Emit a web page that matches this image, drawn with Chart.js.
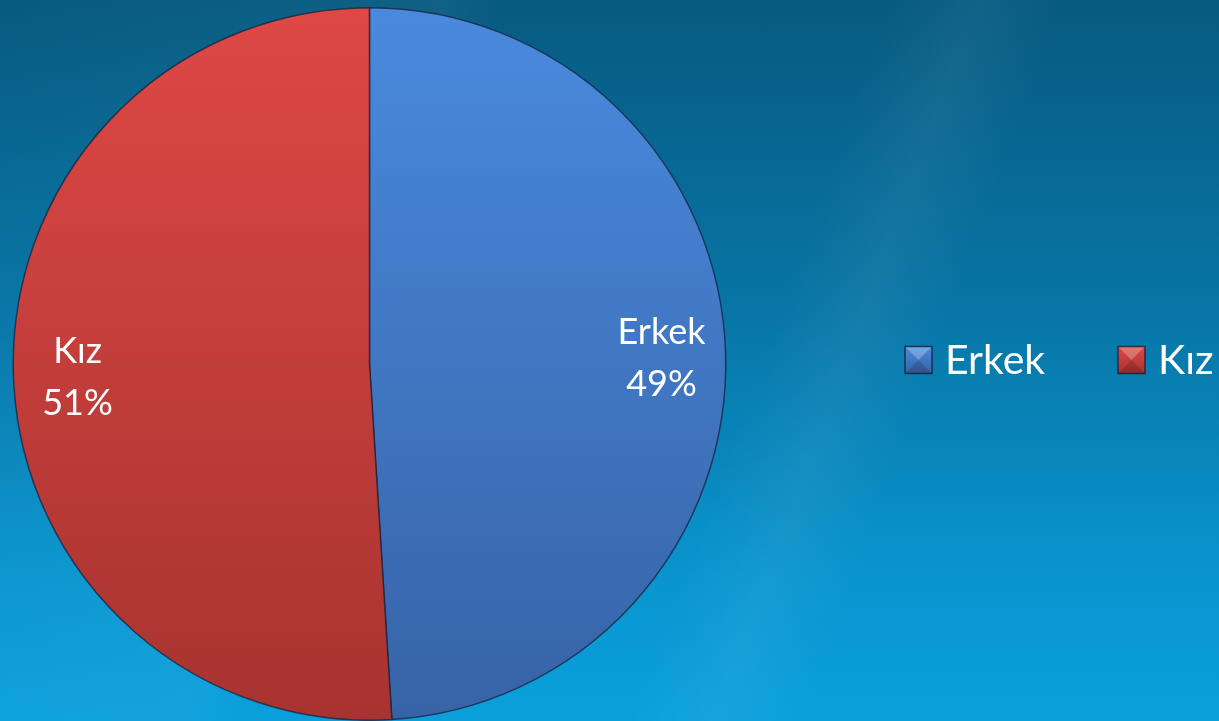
<!DOCTYPE html>
<html>
<head>
<meta charset="utf-8">
<script src="https://cdn.jsdelivr.net/npm/chart.js@4.4.0/dist/chart.umd.min.js"></script>
<style>
  html, body { margin: 0; padding: 0; }
  body {
    width: 1219px;
    height: 721px;
    overflow: hidden;
    background:
      linear-gradient(110deg, rgba(255,255,255,0) 0%, rgba(255,255,255,0.04) 30%, rgba(255,255,255,0) 34%, rgba(255,255,255,0) 60%, rgba(255,255,255,0.05) 66%, rgba(255,255,255,0) 72%),
      linear-gradient(to bottom, #075a80 0%, #0877a8 45%, #0995cf 80%, #0aa0dc 100%);
  }
  #wrap { position: absolute; left: 0; top: 0; width: 1219px; height: 721px; }
</style>
</head>
<body>
<div id="wrap"><canvas id="pieCanvas"></canvas></div>
<script>
const categories = ['Erkek', 'Kız'];
const shares = [49, 51];
const percentLabels = ['49%', '51%'];

const topColors = ['#4a8ade', '#de4845'];
const bottomColors = ['#3763a6', '#a73330'];

const fontFamily = 'Lato, "Open Sans", sans-serif';

/* vertical gradient for each slice, same look as the office style fill */
const sliceFill = ctx => {
  const { chart, dataIndex } = ctx;
  const { chartArea } = chart;
  if (!chartArea) return topColors[dataIndex];
  const g = chart.ctx.createLinearGradient(0, chartArea.top, 0, chartArea.bottom);
  g.addColorStop(0, topColors[dataIndex]);
  g.addColorStop(1, bottomColors[dataIndex]);
  return g;
};

/**
 * Draw "name / percent" inside each slice
 */
const sliceLabels = {
  id: 'sliceLabels',
  afterDatasetsDraw(chart) {
    const { ctx } = chart;
    const meta = chart.getDatasetMeta(0);
    ctx.save();
    ctx.fillStyle = '#ffffff';
    ctx.font = `36px ${fontFamily}`;
    ctx.textAlign = 'center';
    ctx.textBaseline = 'middle';
    meta.data.forEach((arc, i) => {
      const { x, y, startAngle, endAngle, outerRadius } = arc.getProps(
        ['x', 'y', 'startAngle', 'endAngle', 'outerRadius'],
        true
      );
      const mid = (startAngle + endAngle) / 2;
      const r = outerRadius * 0.82;
      const lx = x + Math.cos(mid) * r;
      const ly = y + Math.sin(mid) * r + 4;
      ctx.fillText(categories[i], lx, ly - 26);
      ctx.fillText(percentLabels[i], lx, ly + 26);
    });
    ctx.restore();
  },
};

/**
 * Horizontal legend on the right, drawn on canvas (boxes get a small bevel)
 */
const sideLegend = {
  id: 'sideLegend',
  afterDraw(chart) {
    const { ctx } = chart;
    const itemX = [905, 1118];
    const boxSize = 27;
    const cy = 360;
    ctx.save();
    ctx.font = `41px ${fontFamily}`;
    ctx.textBaseline = 'middle';
    ctx.textAlign = 'left';
    categories.forEach((name, i) => {
      const bx = itemX[i];
      const by = cy - boxSize / 2;
      const g = ctx.createLinearGradient(0, by, 0, by + boxSize);
      g.addColorStop(0, topColors[i]);
      g.addColorStop(1, bottomColors[i]);
      ctx.fillStyle = g;
      ctx.fillRect(bx, by, boxSize, boxSize);

      // bevel: light top triangle, dark bottom triangle
      ctx.fillStyle = 'rgba(255,255,255,0.25)';
      ctx.beginPath();
      ctx.moveTo(bx, by);
      ctx.lineTo(bx + boxSize, by);
      ctx.lineTo(bx + boxSize / 2, by + boxSize / 2);
      ctx.closePath();
      ctx.fill();
      ctx.fillStyle = 'rgba(0,0,0,0.15)';
      ctx.beginPath();
      ctx.moveTo(bx, by + boxSize);
      ctx.lineTo(bx + boxSize, by + boxSize);
      ctx.lineTo(bx + boxSize / 2, by + boxSize / 2);
      ctx.closePath();
      ctx.fill();

      ctx.strokeStyle = 'rgba(20,30,50,0.8)';
      ctx.lineWidth = 1.5;
      ctx.strokeRect(bx, by, boxSize, boxSize);
      ctx.fillStyle = '#ffffff';
      ctx.fillText(name, bx + boxSize + 13, cy + 1);
    });
    ctx.restore();
  },
};

const ctx = document.getElementById('pieCanvas').getContext('2d');

window.PieChartRef = new Chart(ctx, {
  type: 'pie',
  data: {
    labels: categories,
    datasets: [
      {
        data: shares,
        backgroundColor: sliceFill,
        borderColor: 'rgba(25,35,60,0.75)',
        borderWidth: 1.5,
      },
    ],
  },
  options: {
    responsive: true,
    maintainAspectRatio: false,
    animation: false,
    layout: {
      padding: { left: 12, right: 492, top: 7, bottom: 0 },
    },
    plugins: {
      legend: { display: false },
      tooltip: { enabled: false },
    },
  },
  plugins: [sliceLabels, sideLegend],
});
</script>
</body>
</html>
